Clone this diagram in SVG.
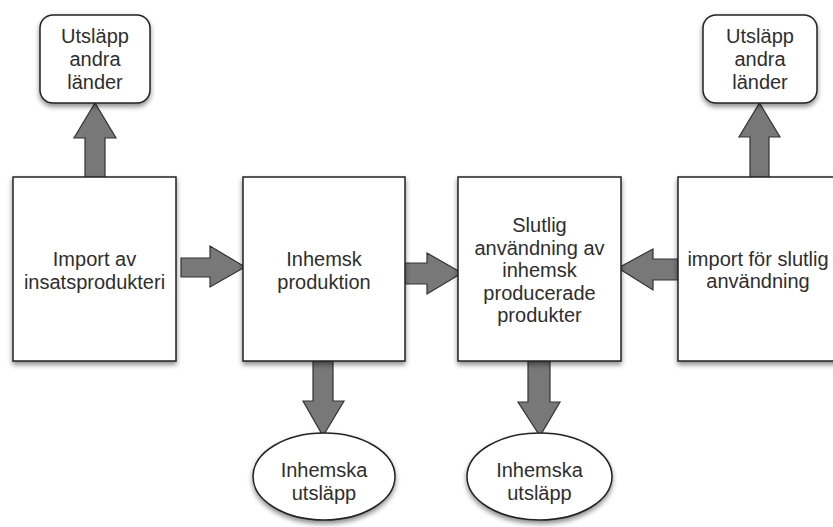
<svg xmlns="http://www.w3.org/2000/svg" width="833" height="527" viewBox="0 0 833 527">
<defs>
<filter id="sh" x="-20%" y="-20%" width="140%" height="140%">
<feDropShadow dx="0" dy="3" stdDeviation="2.5" flood-color="#000" flood-opacity="0.45"/>
</filter>
<style>
.box{fill:#fff;stroke:#222;stroke-width:1.5;filter:url(#sh)}
.arr{fill:#787878;stroke:#333;stroke-width:1.2;stroke-linejoin:miter}
text{font-family:"Liberation Sans",Arial,sans-serif;font-size:20px;fill:#2e2e2e;text-anchor:middle}
</style>
</defs>
<rect width="833" height="527" fill="#fff"/>
<g id="connectors">
<polygon class="arr" points="85,178 85,138 74,138 95,103 116,138 105,138 105,178"/>
<polygon class="arr" points="750,178 750,137 739,137 759.5,103 780,137 769,137 769,178"/>
<polygon class="arr" points="181,258 210,258 210,246 245,267 210,287 210,277 181,277"/>
<polygon class="arr" points="398,263 427,263 427,253 462,273 427,294 427,284 398,284"/>
<polygon class="arr" points="678,259 653,259 653,249 618,268 653,290 653,280 678,280"/>
<polygon class="arr" points="313,361 333,361 333,401 344,401 323,436 303,401 313,401"/>
<polygon class="arr" points="528,361 550,361 550,402 560,402 540,436 518,402 528,402"/>
</g>
<g id="utslapp-andra-1">
<rect class="box" x="40" y="15" width="110" height="88" rx="13"/>
<text x="95" y="43">Utsläpp</text>
<text x="95" y="66">andra</text>
<text x="95" y="89">länder</text>
</g>
<g id="utslapp-andra-2">
<rect class="box" x="703" y="15" width="114" height="88" rx="13"/>
<text x="760" y="43">Utsläpp</text>
<text x="760" y="66">andra</text>
<text x="760" y="89">länder</text>
</g>
<g id="import-insats">
<rect class="box" x="13" y="177" width="163" height="184"/>
<text x="94.5" y="266">Import av</text>
<text x="94.5" y="289">insatsprodukteri</text>
</g>
<g id="inhemsk-produktion">
<rect class="box" x="243" y="177" width="162" height="184"/>
<text x="324" y="266">Inhemsk</text>
<text x="324" y="289">produktion</text>
</g>
<g id="slutlig-anvandning">
<rect class="box" x="458" y="177" width="163" height="184"/>
<text x="539.5" y="232">Slutlig</text>
<text x="539.5" y="255">användning av</text>
<text x="539.5" y="277">inhemsk</text>
<text x="539.5" y="300">producerade</text>
<text x="539.5" y="322">produkter</text>
</g>
<g id="import-slutlig">
<rect class="box" x="678" y="177" width="163" height="184"/>
<text x="758" y="266">import för slutlig</text>
<text x="758" y="288">användning</text>
</g>
<g id="inhemska-utslapp-1">
<ellipse class="box" cx="324" cy="476.5" rx="71" ry="43.5"/>
<text x="324" y="477">Inhemska</text>
<text x="324" y="500">utsläpp</text>
</g>
<g id="inhemska-utslapp-2">
<ellipse class="box" cx="539.5" cy="476.5" rx="72.5" ry="43.5"/>
<text x="539.5" y="477">Inhemska</text>
<text x="539.5" y="500">utsläpp</text>
</g>
</svg>
